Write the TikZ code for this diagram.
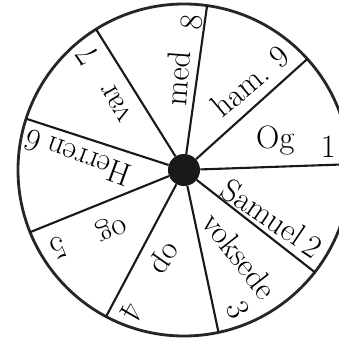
\documentclass[tikz,border=0pt]{standalone}
\usepackage{fontspec}
\usepackage{tikz}
\usetikzlibrary{arrows.meta}
\tikzset{
  rim/.style={line width=2pt, black!85},
  spoke/.style={line width=1.5pt, black!90},
  hub/.style={circle, fill=black!90, minimum size=0.8cm, inner sep=0pt},
  word/.style={inner sep=0pt, font=\fontsize{23}{27}\selectfont},
  num/.style={word}
}

\begin{document}
\begin{tikzpicture}[scale=0.025]
		\useasboundingbox (-184,-173) rectangle (154,170);
		\node[hub] (hub) at (0,0) {};
		\draw[rim] (0,0) circle (166);
		\foreach \a in {2,42,...,322} {
			\coordinate (r\a) at (\a:166);
			\draw[spoke] (hub) -- (r\a);
		}
		% words, one per sector
		\node[word, rotate=0] (w1) at (18:96) {Og};
		\node[word, rotate=-34] (w2) at (-28:90) {Samuel};
		\node[word, rotate=-52] (w3) at (-57:102) {voksede};
		\node[word, rotate=-125] (w4) at (-103.5:89.5) {op};
		\node[word, rotate=-158] (w5) at (-142:93) {og};
		\node[word, rotate=160] (w6) at (175:96) {Herren};
		\node[word, rotate=120] (w7) at (135:95) {var};
		\node[word, rotate=86] (w8) at (94:92) {med};
		\node[word, rotate=40] (w9) at (55:98) {ham.};
		% numbers near the rim
		\node[num, rotate=0] (n1) at (9:146) {1};
		\node[num, rotate=-34] (n2) at (-31:150) {2};
		\node[num, rotate=-65] (n3) at (-69:150) {3};
		\node[num, rotate=-120] (n4) at (-110:151) {4};
		\node[num, rotate=-158] (n5) at (-148:148) {5};
		\node[num, rotate=160] (n6) at (169:154) {6};
		\node[num, rotate=125] (n7) at (130:150) {7};
		\node[num, rotate=85] (n8) at (87:148) {8};
		\node[num, rotate=40] (n9) at (50:148) {9};
	\end{tikzpicture}
\end{document}
